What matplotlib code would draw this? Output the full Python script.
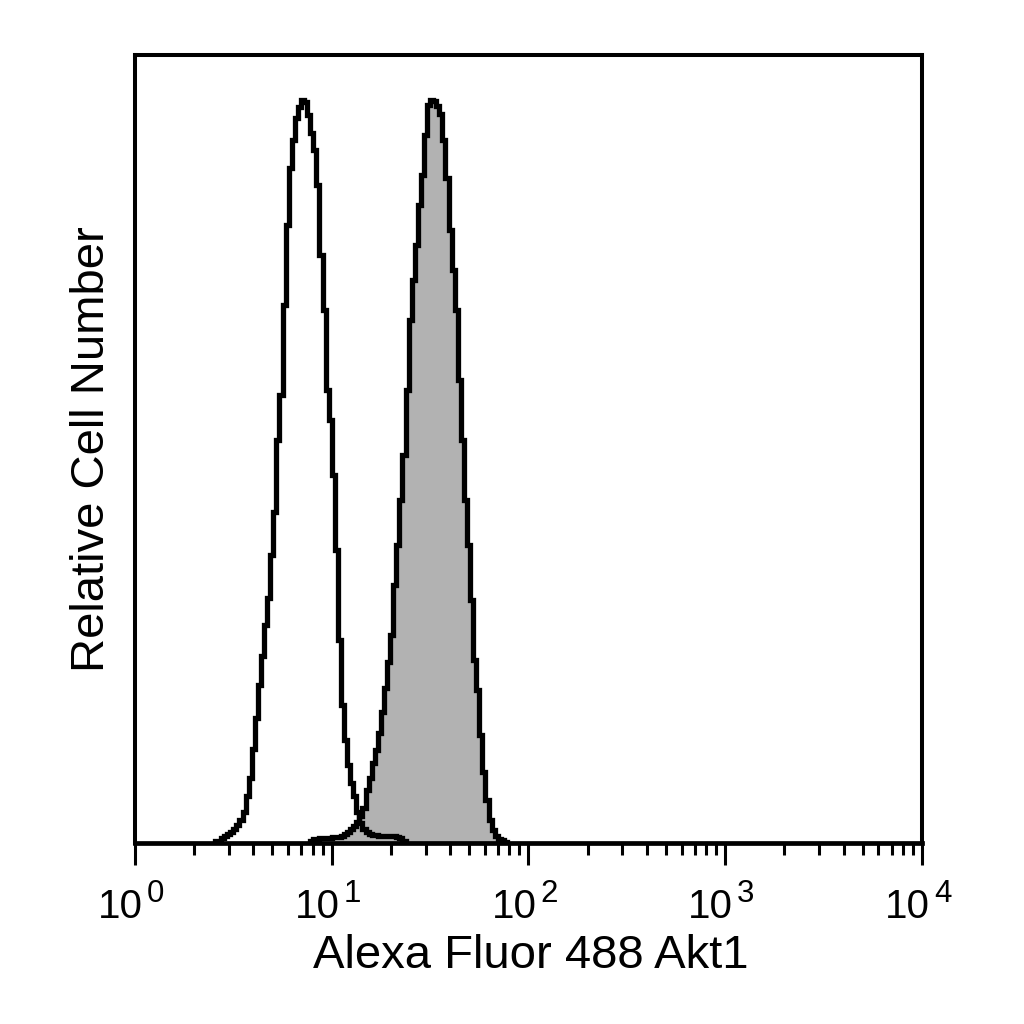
import numpy as np
import matplotlib
matplotlib.use("Agg")
import matplotlib.pyplot as plt
import matplotlib.transforms as mtransforms

# histogram channels: 64 channels per decade, counts
bins_per_decade = 64

# isotype control (open curve)
iso_start = 26
iso_counts = [0.2, 0.3, 0.7, 0.9, 1.2, 1.5, 1.9, 2.4, 3.1, 4.2, 6.3, 8.7, 12.7,
              16.8, 21.3, 25.2, 29.3, 33, 38.8, 44.5, 54.2, 60.3, 72.4, 83.2,
              90.8, 94.6, 97.6, 99, 100, 99.7, 98, 95.6, 93.3, 88.6, 79.1, 71.7,
              61, 56.9, 49.5, 39.4, 27.3, 18.6, 13.9, 10.5, 8.1, 6.3, 4.2, 2.7,
              1.9, 1.5, 1.2, 1.1, 1.1, 1.0, 1.0, 1.0, 1.0, 0.9, 0.9, 0.8, 0.6,
              0.3]

# Akt1 stained (grey filled curve)
akt_start = 57
akt_counts = [0.3, 0.5, 0.5, 0.6, 0.6, 0.7, 0.7, 0.8, 0.8, 0.8, 0.9, 1.2, 1.5,
              1.9, 2.3, 2.8, 3.6, 4.7, 7.1, 8.7, 10.8, 12.5, 14.8, 17.6, 20.9,
              24.4, 28, 34.7, 40.1, 46.2, 52.2, 61, 70.4, 75.8, 80.5, 85.9, 89.9,
              95.3, 99.3, 100, 99.9, 99.2, 98.1, 94.6, 89.5, 82.5, 77.1, 71.7,
              62.3, 54.2, 46.2, 40.1, 32.7, 24.6, 20.6, 14.5, 9.6, 5.8, 3.1, 1.7,
              0.9, 0.5, 0.4, 0.1]

x_decades = [0, 1, 2, 3, 4]
x_label = "Alexa Fluor 488 Akt1"
y_label = "Relative Cell Number"


def edges(start, counts):
    k = np.arange(start, start + len(counts) + 1)
    return 10.0 ** (k / bins_per_decade)


plt.rcParams["font.family"] = ["Liberation Sans", "DejaVu Sans"]

fig = plt.figure(figsize=(10.24, 10.24), dpi=100)
ax = fig.add_axes([0.1318, 0.1768, 0.7686, 0.7695])

grey = "#b2b2b2"
ax.stairs(akt_counts, edges(akt_start, akt_counts), fill=True, color=grey,
          zorder=1)
ax.stairs(akt_counts, edges(akt_start, akt_counts), color="black",
          linewidth=3.8, zorder=2)
ax.stairs(iso_counts, edges(iso_start, iso_counts), color="black",
          linewidth=3.8, zorder=3)

ax.set_xscale("log")
ax.set_xlim(10 ** x_decades[0], 10 ** x_decades[-1])
ax.set_ylim(0, 106.06)
ax.set_xticks([10.0 ** d for d in x_decades])
ax.set_xticklabels([])
ax.set_yticks([])

ax.tick_params(axis="x", which="major", direction="out", length=16, width=2.2)
ax.tick_params(axis="x", which="minor", direction="out", length=8.6, width=2.2)

for s in ax.spines.values():
    s.set_linewidth(2.9)
ax.spines["bottom"].set_linewidth(3.4)

# decade labels: "10" plus a large raised exponent
trans = ax.get_xaxis_transform()
for d in x_decades:
    t1 = trans + mtransforms.ScaledTranslation(0.08, -0.755, fig.dpi_scale_trans)
    ax.text(10.0 ** d, 0, "10", transform=t1, ha="right", va="baseline",
            fontsize=29)
    t2 = trans + mtransforms.ScaledTranslation(0.12, -0.59, fig.dpi_scale_trans)
    ax.text(10.0 ** d, 0, str(d), transform=t2, ha="left", va="baseline",
            fontsize=22.5)

ax.set_xlabel(x_label, fontsize=34)
ax.set_ylabel(y_label, fontsize=34)
ax.xaxis.set_label_coords(0.503, -0.115)
ax.yaxis.set_label_coords(-0.026, 0.5)

fig.savefig("out.png", dpi=100)
